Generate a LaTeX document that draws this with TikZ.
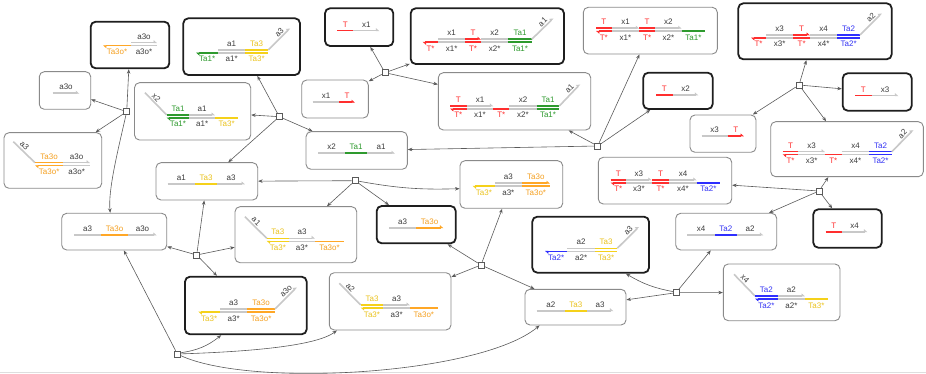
\documentclass[tikz,border=0pt]{standalone}
\usepackage{fontspec}
\setmainfont{Liberation Sans}
\usetikzlibrary{arrows.meta,fit}
\definecolor{cG}{HTML}{C8C8C8}
\definecolor{cGL}{HTML}{3C3C3C}
\definecolor{cR}{HTML}{FF2E2E}
\definecolor{cRL}{HTML}{FF2E2E}
\definecolor{cN}{HTML}{2E9A2E}
\definecolor{cNL}{HTML}{2E9A2E}
\definecolor{cY}{HTML}{F5D11A}
\definecolor{cYL}{HTML}{EBC31E}
\definecolor{cO}{HTML}{FFA726}
\definecolor{cOL}{HTML}{F5A020}
\definecolor{cU}{HTML}{2E2EFF}
\definecolor{cUL}{HTML}{3535F5}
\definecolor{cBox}{HTML}{8A8A8A}
\definecolor{cInit}{HTML}{1E1E1E}
\definecolor{cCon}{HTML}{5A5A5A}
\tikzset{
 box/.style={draw=cBox,line width=0.9pt,rounded corners=5pt,fill=white,inner sep=0pt},
 initbox/.style={box,draw=cInit,line width=1.8pt},
 rxn/.style={draw=cCon,fill=white,line width=0.6pt,minimum size=6pt,inner sep=0pt},
 conn/.style={draw=cCon,line width=0.6pt,-{Stealth[length=4.5pt,width=3.5pt]}},
 dom/.style={line width=1.6pt},
 lbl/.style={font=\fontsize{8}{9}\selectfont,inner sep=0pt,anchor=base},
 ra/.style={-{Triangle[harpoon,length=3pt,width=5pt]}},
 la/.style={{Triangle[harpoon,length=3pt,width=5pt]}-},
}
\newcommand\TopD[6][]{\draw[dom,draw=#5,#1] (#2,#4) -- (#3,#4);
 \node[lbl,text=#5L] at ({(#2+#3)/2},{#4-3.5}) {#6};}
\newcommand\BotD[6][]{\draw[dom,draw=#5,#1] (#2,#4) -- (#3,#4);
 \node[lbl,text=#5L] at ({(#2+#3)/2},{#4+9}) {#6};}
% 3' overhang (base to tip, arrow at tip)
\newcommand\OvT[5]{\draw[dom,draw=cG,ra] (#1,#2) -- (#3,#4)
 node[lbl,pos=0.66,sloped,above=1.2pt,text=cGL] {#5};}
% 5' overhang (tip to base)
\newcommand\OvF[5]{\draw[dom,draw=cG] (#1,#2) -- (#3,#4)
 node[lbl,pos=0.36,sloped,above=1.2pt,text=cGL] {#5};}
\newcommand\Bx[6]{\node[#2,fit={(#3,#4) (#5,#6)}] (#1) {};}
\begin{document}
\begin{tikzpicture}[x=1pt,y=-1pt]
\useasboundingbox (0,0) rectangle (926,374);
\draw[cG!60,line width=0.8pt] (0,372) -- (926,372);
% boxes
\Bx{b1}{box}{39.3}{71.7}{90.7}{109.3}
\Bx{b2}{initbox}{90.7}{21.7}{169.3}{68.3}
\Bx{b3}{initbox}{183.3}{18.3}{300}{75}
\Bx{b4}{box}{134.5}{82.7}{250.7}{140}
\Bx{b5}{box}{4}{132.7}{101.7}{188.3}
\Bx{b6}{initbox}{325}{8.3}{393.3}{46}
\Bx{b7}{initbox}{410.7}{8.3}{564}{64}
\Bx{b8}{box}{301.7}{80}{368.3}{118}
\Bx{b9}{box}{438.3}{72.7}{590.7}{130}
\Bx{b10}{box}{583.3}{7.3}{717.3}{54}
\Bx{b11}{initbox}{643.3}{72.7}{712.7}{109}
\Bx{b12}{initbox}{738.3}{3.3}{891.7}{59.3}
\Bx{b13}{initbox}{842.7}{73.3}{911.7}{110.7}
\Bx{b14}{box}{690}{115}{756}{152.3}
\Bx{b15}{box}{770.7}{121.7}{923.3}{176.7}
\Bx{b16}{box}{598.3}{157.3}{731.7}{204}
\Bx{b17}{initbox}{813.3}{209.3}{881.7}{247.7}
\Bx{b18}{box}{675.7}{213.3}{776.7}{250}
\Bx{b19}{box}{723.3}{264}{840}{320.7}
\Bx{b20}{initbox}{532.3}{216.7}{649}{272.7}
\Bx{b21}{box}{525}{289.3}{626}{325}
\Bx{b22}{box}{329.3}{272.7}{451}{330}
\Bx{b23}{initbox}{376.7}{206}{455.7}{243.3}
\Bx{b24}{box}{460}{160.7}{562.7}{208.3}
\Bx{b25}{box}{306}{131.7}{407.3}{169.3}
\Bx{b26}{box}{156}{162.7}{257.7}{200}
\Bx{b27}{box}{235}{206.7}{356.7}{262.7}
\Bx{b28}{box}{61.7}{213.3}{166.7}{250}
\Bx{b29}{initbox}{185}{276.7}{306.7}{334.3}
% B1
\TopD[ra]{52.7}{79.3}{93.3}{cG}{a3o}
% B2
\TopD[ra]{131}{157}{42.7}{cG}{a3o}
\BotD[la]{103}{131}{45.7}{cO}{Ta3o*}
\BotD{131}{157}{45.7}{cG}{a3o*}
% B3
\TopD{218.3}{245}{50}{cG}{a1}
\TopD{245}{268.3}{50}{cY}{Ta3}
\OvT{268.3}{50}{290}{28.3}{a3}
\BotD[la]{196}{218.3}{53}{cN}{Ta1*}
\BotD{218.3}{245}{53}{cG}{a1*}
\BotD{245}{268.3}{53}{cY}{Ta3*}
% B4
\OvF{145}{92.7}{166.7}{115}{x2}
\TopD{166.7}{189.3}{115}{cN}{Ta1}
\TopD[ra]{189.3}{215}{115}{cG}{a1}
\BotD[la]{166.7}{189.3}{118}{cN}{Ta1*}
\BotD{189.3}{215}{118}{cG}{a1*}
\BotD{215}{238.3}{118}{cY}{Ta3*}
% B5
\OvF{13.3}{141.7}{35}{162.7}{a3}
\TopD{35}{63.3}{162.7}{cO}{Ta3o}
\TopD[ra]{63.3}{90}{162.7}{cG}{a3o}
\BotD[la]{35}{63.3}{165.7}{cO}{Ta3o*}
\BotD{63.3}{90}{165.7}{cG}{a3o*}
% B6
\TopD{337.3}{353.3}{30.7}{cR}{T}
\TopD[ra]{353.3}{379.3}{30.7}{cG}{x1}
% B7
\BotD[la]{422.7}{438.3}{42.3}{cR}{T*}
\TopD{438.3}{465}{39.3}{cG}{x1}
\TopD[ra]{465}{481}{39.3}{cR}{T}
\TopD{481}{508.3}{39.3}{cG}{x2}
\TopD{508.3}{531.7}{39.3}{cN}{Ta1}
\OvT{531.7}{39.3}{553.3}{18.3}{a1}
\BotD{438.3}{465}{42.3}{cG}{x1*}
\BotD{465}{481}{42.3}{cR}{T*}
\BotD{481}{508.3}{42.3}{cG}{x2*}
\BotD{508.3}{531.7}{42.3}{cN}{Ta1*}
% B8
\TopD{312.7}{339.3}{102.3}{cG}{x1}
\TopD[ra]{339.3}{355}{102.3}{cR}{T}
% B9
\TopD{450}{466.7}{106}{cR}{T}
\TopD[ra]{466.7}{493.3}{106}{cG}{x1}
\TopD{509.3}{536.7}{106}{cG}{x2}
\TopD{536.7}{559.3}{106}{cN}{Ta1}
\OvT{559.3}{106}{580}{84.3}{a1}
\BotD[la]{450}{466.7}{109}{cR}{T*}
\BotD{466.7}{493.3}{109}{cG}{x1*}
\BotD{493.3}{509.3}{109}{cR}{T*}
\BotD{509.3}{536.7}{109}{cG}{x2*}
\BotD{536.7}{559.3}{109}{cN}{Ta1*}
% B10
\TopD{596}{611.7}{28.3}{cR}{T}
\TopD[ra]{611.7}{639.3}{28.3}{cG}{x1}
\TopD{639.3}{655}{28.3}{cR}{T}
\TopD[ra]{655}{681.7}{28.3}{cG}{x2}
\BotD[la]{596}{611.7}{31.3}{cR}{T*}
\BotD{611.7}{639.3}{31.3}{cG}{x1*}
\BotD{639.3}{655}{31.3}{cR}{T*}
\BotD{655}{681.7}{31.3}{cG}{x2*}
\BotD{681.7}{705}{31.3}{cN}{Ta1*}
% B11
\TopD{656}{672.7}{95}{cR}{T}
\TopD[ra]{672.7}{698.3}{95}{cG}{x2}
% B12
\BotD[la]{751}{766}{38}{cR}{T*}
\TopD{766}{793.3}{35}{cG}{x3}
\TopD[ra]{793.3}{810}{35}{cR}{T}
\TopD{810}{837.3}{35}{cG}{x4}
\TopD{837.3}{860}{35}{cU}{Ta2}
\OvT{860}{35}{881.7}{13.3}{a2}
\BotD{766}{793.3}{38}{cG}{x3*}
\BotD{793.3}{810}{38}{cR}{T*}
\BotD{810}{837.3}{38}{cG}{x4*}
\BotD{837.3}{860}{38}{cU}{Ta2*}
% B13
\TopD{855}{871.7}{95.7}{cR}{T}
\TopD[ra]{871.7}{898.3}{95.7}{cG}{x3}
% B14
\TopD{701.7}{727.7}{136}{cG}{x3}
\TopD[ra]{727.7}{744}{136}{cR}{T}
% B15
\TopD{782.7}{798.3}{151.7}{cR}{T}
\TopD[ra]{798.3}{825}{151.7}{cG}{x3}
\TopD{841.7}{869.3}{151.7}{cG}{x4}
\TopD{869.3}{891.7}{151.7}{cU}{Ta2}
\OvT{891.7}{151.7}{913.3}{130}{a2}
\BotD[la]{782.7}{798.3}{154.7}{cR}{T*}
\BotD{798.3}{825}{154.7}{cG}{x3*}
\BotD{825}{841.7}{154.7}{cR}{T*}
\BotD{841.7}{869.3}{154.7}{cG}{x4*}
\BotD{869.3}{891.7}{154.7}{cU}{Ta2*}
% B16
\TopD{610.7}{626}{180}{cR}{T}
\TopD[ra]{626}{651.7}{180}{cG}{x3}
\TopD{651.7}{669.3}{180}{cR}{T}
\TopD[ra]{669.3}{696.7}{180}{cG}{x4}
\BotD[la]{610.7}{626}{183}{cR}{T*}
\BotD{626}{651.7}{183}{cG}{x3*}
\BotD{651.7}{669.3}{183}{cR}{T*}
\BotD{669.3}{696.7}{183}{cG}{x4*}
\BotD{696.7}{720}{183}{cU}{Ta2*}
% B17
\TopD{825.7}{841.7}{231.7}{cR}{T}
\TopD[ra]{841.7}{867.3}{231.7}{cG}{x4}
% B18
\TopD{687.3}{715}{235}{cG}{x4}
\TopD{715}{736.7}{235}{cU}{Ta2}
\TopD[ra]{736.7}{763.3}{235}{cG}{a2}
% B19
\OvF{734}{274.3}{755}{296}{x4}
\TopD{755}{777.7}{296}{cU}{Ta2}
\TopD[ra]{777.7}{805}{296}{cG}{a2}
\BotD[la]{755}{777.7}{299}{cU}{Ta2*}
\BotD{777.7}{805}{299}{cG}{a2*}
\BotD{805}{827.7}{299}{cY}{Ta3*}
% B20
\BotD[la]{545}{567.3}{251.3}{cU}{Ta2*}
\TopD{567.3}{595}{248.3}{cG}{a2}
\TopD{595}{617.3}{248.3}{cY}{Ta3}
\OvT{617.3}{248.3}{639}{226.7}{a3}
\BotD{567.3}{595}{251.3}{cG}{a2*}
\BotD{595}{617.3}{251.3}{cY}{Ta3*}
% B21
\TopD{536.7}{565}{310.7}{cG}{a2}
\TopD{565}{586.7}{310.7}{cY}{Ta3}
\TopD[ra]{586.7}{613.3}{310.7}{cG}{a3}
% B22
\OvF{339.3}{283.3}{360.7}{305}{a2}
\TopD{360.7}{383.3}{305}{cY}{Ta3}
\TopD[ra]{383.3}{410}{305}{cG}{a3}
\BotD[la]{360.7}{383.3}{308}{cY}{Ta3*}
\BotD{383.3}{410}{308}{cG}{a3*}
\BotD{410}{437.7}{308}{cO}{Ta3o*}
% B23
\TopD{389.3}{416}{227.7}{cG}{a3}
\TopD[ra]{416}{443.3}{227.7}{cO}{Ta3o}
% B24
\BotD[la]{472.7}{495}{186.3}{cY}{Ta3*}
\TopD{495}{521.7}{183.3}{cG}{a3}
\TopD[ra]{521.7}{550}{183.3}{cO}{Ta3o}
\BotD{495}{521.7}{186.3}{cG}{a3*}
\BotD{521.7}{550}{186.3}{cO}{Ta3o*}
% B25
\TopD{318.3}{345}{153.3}{cG}{x2}
\TopD{345}{367.3}{153.3}{cN}{Ta1}
\TopD[ra]{367.3}{395}{153.3}{cG}{a1}
% B26
\TopD{167.7}{195}{184}{cG}{a1}
\TopD{195}{217.3}{184}{cY}{Ta3}
\TopD[ra]{217.3}{245}{184}{cG}{a3}
% B27
\OvF{245}{216.7}{266.7}{238.3}{a1}
\TopD{266.7}{289}{238.3}{cY}{Ta3}
\TopD[ra]{289}{315}{238.3}{cG}{a3}
\BotD[la]{266.7}{289}{241.3}{cY}{Ta3*}
\BotD{289}{315}{241.3}{cG}{a3*}
\BotD{315}{344}{241.3}{cO}{Ta3o*}
% B28
\TopD{74}{101}{235}{cG}{a3}
\TopD{101}{128.3}{235}{cO}{Ta3o}
\TopD[ra]{128.3}{156.7}{235}{cG}{a3o}
% B29
\BotD[la]{198.3}{220}{312}{cY}{Ta3*}
\TopD{220}{247.3}{309}{cG}{a3}
\TopD{247.3}{275}{309}{cO}{Ta3o}
\OvT{275}{309}{296.7}{287.3}{a3o}
\BotD{220}{247.3}{312}{cG}{a3*}
\BotD{247.3}{275}{312}{cO}{Ta3o*}
% reaction nodes
\node[rxn] (r1) at (126.7,111.7) {};
\node[rxn] (r2) at (279.3,116.7) {};
\node[rxn] (r3) at (385,72.7) {};
\node[rxn] (r4) at (597.7,146) {};
\node[rxn] (r5) at (355,180.7) {};
\node[rxn] (r6) at (481,265) {};
\node[rxn] (r7) at (676,292.7) {};
\node[rxn] (r8) at (819,191) {};
\node[rxn] (r9) at (799,85) {};
\node[rxn] (r10) at (177.3,354) {};
\node[rxn] (r11) at (196.7,255) {};
% connectors
\draw[conn] (r1) -- (b2);
\draw[conn] (r1) -- (b1);
\draw[conn] (r1) -- (b5);
\draw[conn] (r1) .. controls (118,150) and (108,190) .. ([xshift=-4pt]b28.north);
\draw[conn] (r2) -- (b3);
\draw[conn] (r2) -- (b4);
\draw[conn] (r2) -- (b25);
\draw[conn] (r2) -- (b26);
\draw[conn] (r3) -- (b6);
\draw[conn] (r3) -- (b7);
\draw[conn] (r3) -- (b8);
\draw[conn] (r3) -- (b9);
\draw[conn] (r4) -- (b9);
\draw[conn] (r4) -- (b10);
\draw[conn] (r4) -- (b11);
\draw[conn] (r4) -- (b25);
\draw[conn] (r5) -- (b26);
\draw[conn] (r5) -- (b27);
\draw[conn] (r5) -- (b23);
\draw[conn] (r5) to[bend right=6] (b24);
\draw[conn] (r6) -- (b24);
\draw[conn] (r6) -- (b23);
\draw[conn] (r6) -- (b22);
\draw[conn] (r6) -- (b21);
\draw[conn] (r7) to[bend left=10] (b20);
\draw[conn] (r7) -- (b18);
\draw[conn] (r7) -- (b21);
\draw[conn] (r7) -- (b19);
\draw[conn] (r8) -- (b15);
\draw[conn] (r8) -- (b16);
\draw[conn] (r8) -- (b18);
\draw[conn] (r8) -- (b17);
\draw[conn] (r9) -- (b12);
\draw[conn] (r9) -- (b13);
\draw[conn] (r9) -- (b14);
\draw[conn] (r9) -- (b15);
\draw[conn] (r10) -- (b28);
\draw[conn] (r10) to[bend right=15] (b29);
\draw[conn] (r10) .. controls (240,352) and (315,347) .. ([xshift=8pt]b22.south west);
\draw[conn] (r10) .. controls (250,388) and (480,375) .. ([xshift=15pt]b21.south west);
\draw[conn] (r11) -- (b26);
\draw[conn] (r11) -- (b28);
\draw[conn] (r11) -- (b27);
\draw[conn] (r11) -- (b29);
\end{tikzpicture}
\end{document}
